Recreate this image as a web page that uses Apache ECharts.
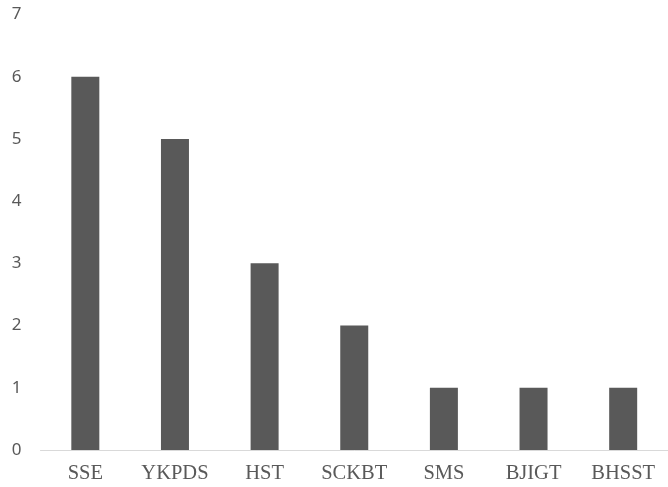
<!DOCTYPE html>
<html>
<head>
<meta charset="utf-8">
<script src="https://cdn.jsdelivr.net/npm/echarts@6/dist/echarts.min.js"></script>
<style>
  html, body { margin: 0; padding: 0; background: #fff; }
  #chart { width: 668px; height: 487px; }
</style>
</head>
<body>
<div id="chart"></div>
<script>
// Category names and counts
const categories = ['SSE', 'YKPDS', 'HST', 'SCKBT', 'SMS', 'BJIGT', 'BHSST'];
const counts = [6, 5, 3, 2, 1, 1, 1];

const chart = echarts.init(document.getElementById('chart'));
chart.setOption({
  animation: false,
  grid: { left: 40.5, top: 14.5, width: 636, height: 435.5, containLabel: false },
  xAxis: {
    type: 'category',
    data: categories,
    axisLine: { lineStyle: { color: '#d9d9d9', width: 1 } },
    axisTick: { show: false },
    axisLabel: {
      color: '#595959',
      fontFamily: 'Liberation Serif',
      fontSize: 20.5,
      margin: 13
    }
  },
  yAxis: {
    type: 'value',
    min: 0,
    max: 7,
    interval: 1,
    splitLine: { show: false },
    axisLine: { show: false },
    axisTick: { show: false },
    axisLabel: {
      color: '#595959',
      fontFamily: 'Noto Sans',
      fontSize: 17,
      margin: 19
    }
  },
  series: [{
    type: 'bar',
    data: counts,
    barWidth: 28,
    itemStyle: { color: '#595959' }
  }]
});
</script>
</body>
</html>
